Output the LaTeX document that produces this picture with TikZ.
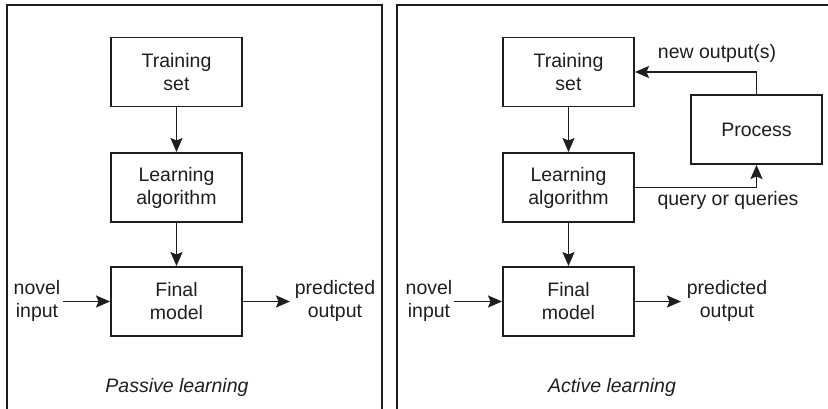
\documentclass[tikz,border=0pt]{standalone}
\usepackage{fontspec}
\setmainfont{Liberation Sans}
\usetikzlibrary{arrows.meta}
\definecolor{ink}{HTML}{1E1E1E}
\begin{document}
\begin{tikzpicture}[x=1pt,y=-1pt,
  every node/.style={text=ink},
  txt/.style={align=center,font=\fontsize{19.5}{23}\selectfont,inner sep=0pt},
  box/.style={txt,draw=ink,line width=1.9pt,minimum width=131pt,minimum height=69pt},
  conn/.style={draw=ink,line width=1.9pt,-{Stealth[length=14pt,width=12pt,inset=2.5pt]}},
  frame/.style={draw=ink,line width=1.9pt},
  captxt/.style={font=\fontsize{19.5}{23}\selectfont\itshape,inner sep=0pt}]
\useasboundingbox (0,0) rectangle (828,409);
% frames
\draw[frame] (7,412) -- (7,5) -- (382,5) -- (382,412);
\draw[frame] (397,412) -- (397,5) -- (832,5);
% left panel
\node[box] (ts1) at (176.5,72) {Training\\set};
\node[box] (la1) at (176.5,187.5) {Learning\\algorithm};
\node[box] (fm1) at (176.5,301.5) {Final\\model};
\node[txt] (ni1) at (37,301) {novel\\input};
\node[txt] (po1) at (335,301) {predicted\\output};
\coordinate (ni1e) at (63,301.5);
\coordinate (po1w) at (290,301.5);
\draw[conn] (ts1) -- (la1);
\draw[conn] (la1) -- (fm1);
\draw[conn] (ni1e) -- (fm1.west);
\draw[conn] (fm1.east) -- (po1w);
\node[captxt] (c1) at (177,387) {Passive learning};
% right panel
\node[box] (ts2) at (568.5,72) {Training\\set};
\node[box] (la2) at (568.5,187.5) {Learning\\algorithm};
\node[box] (fm2) at (568.5,301.5) {Final\\model};
\node[box] (pr2) at (756.5,129.5) {Process};
\node[txt] (ni2) at (429,301) {novel\\input};
\node[txt] (po2) at (727,301) {predicted\\output};
\coordinate (ni2e) at (454,301.5);
\coordinate (po2w) at (681,301.5);
\draw[conn] (ts2) -- (la2);
\draw[conn] (la2) -- (fm2);
\draw[conn] (ni2e) -- (fm2.west);
\draw[conn] (fm2.east) -- (po2w);
\draw[conn] (la2.east) -| (pr2.south);
\draw[conn] (pr2.north) |- (ts2.east);
\node[txt] (no2) at (717,53) {new output(s)};
\node[txt] (qq2) at (728,200) {query or queries};
\node[captxt] (c2) at (612,387) {Active learning};
\end{tikzpicture}
\end{document}
